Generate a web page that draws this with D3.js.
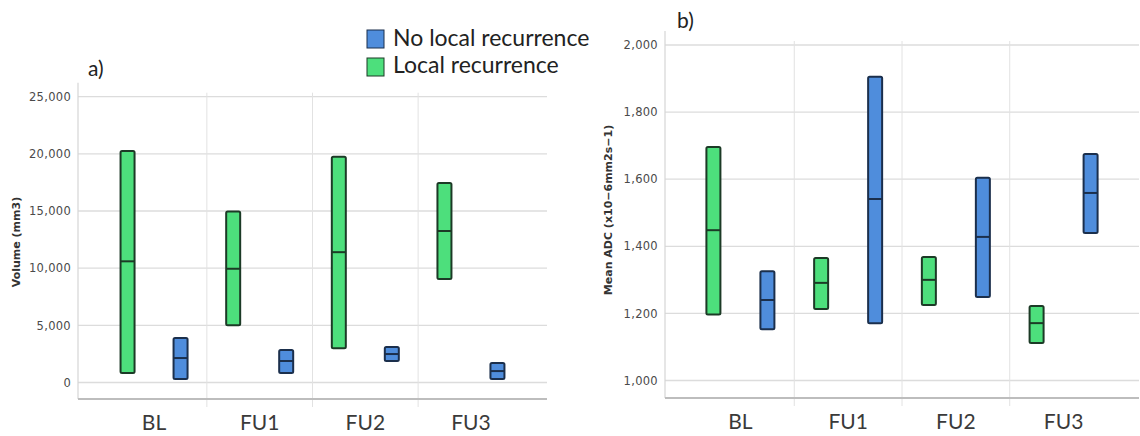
<!DOCTYPE html>
<html>
<head>
<meta charset="utf-8">
<script src="https://cdn.jsdelivr.net/npm/d3@7"></script>
<style>
  body { margin: 0; background: #fff; }
  svg { display: block; }
</style>
</head>
<body>
<svg id="chart" width="1140" height="436"></svg>
<script>
// categories and groups
const categories = ["BL", "FU1", "FU2", "FU3"];
const groupNames = ["No local recurrence", "Local recurrence"];

// a) volume (mm3), each entry [low, median, high]
const volumeLocal = [[830, 10600, 20250], [5000, 9950, 14950], [3000, 11400, 19750], [9050, 13250, 17450]];
const volumeNoLocal = [[300, 2140, 3890], [830, 1880, 2840], [1880, 2490, 3100], [300, 1000, 1700]];
const volumeTicks = [0, 5000, 10000, 15000, 20000, 25000];

// b) mean ADC, each entry [low, median, high]
const adcLocal = [[1197, 1448, 1696], [1213, 1291, 1365], [1225, 1300, 1368], [1112, 1171, 1222]];
const adcNoLocal = [[1153, 1240, 1326], [1171, 1541, 1905], [1249, 1428, 1604], [1440, 1559, 1675]];
const adcTicks = [1000, 1200, 1400, 1600, 1800, 2000];

const green = "#4ddf7c", greenStroke = "#1c3a26";
const blue = "#4f8ddc", blueStroke = "#1b2f4c";

const svg = d3.select("#chart");
const fmt = d3.format(",");

function drawPanel(p) {
    const g = svg.append("g");

    const x = d3.scaleBand().domain(categories)
        .range([p.left, p.right]).paddingInner(0).paddingOuter(p.pad);
    const y = d3.scaleLinear().domain(p.domain).range(p.yRange);

    // horizontal gridlines
    g.selectAll(".hgrid").data(p.ticks).join("line")
        .attr("x1", p.left).attr("x2", p.right)
        .attr("y1", d => y(d)).attr("y2", d => y(d))
        .attr("stroke", "#dcdcdc").attr("stroke-width", 1.3);

    // vertical separators between categories
    g.selectAll(".vgrid").data(categories.slice(1)).join("line")
        .attr("x1", d => x(d)).attr("x2", d => x(d))
        .attr("y1", y(p.domain[1]) - 4).attr("y2", p.axisY + 8)
        .attr("stroke", "#e2e2e2").attr("stroke-width", 1);

    // y axis line
    g.append("line")
        .attr("x1", p.left).attr("x2", p.left)
        .attr("y1", y(p.domain[1]) - 14).attr("y2", p.axisY)
        .attr("stroke", "#d6d6d6").attr("stroke-width", 1.2);

    // x axis line
    g.append("line")
        .attr("x1", p.left).attr("x2", p.right)
        .attr("y1", p.axisY).attr("y2", p.axisY)
        .attr("stroke", "#bdbdbd").attr("stroke-width", 2);

    // y tick labels
    const yAxis = g.append("g")
        .attr("transform", `translate(${p.left - 4},0)`)
        .call(d3.axisLeft(y).tickValues(p.ticks).tickFormat(fmt).tickSize(0));
    yAxis.select(".domain").remove();
    yAxis.selectAll("text")
        .attr("font-family", "DejaVu Sans, sans-serif")
        .attr("font-size", 11.5).attr("letter-spacing", 0.3).attr("fill", "#4a4a4a");

    // x tick labels
    const xAxis = g.append("g")
        .attr("transform", `translate(0,${p.axisY})`)
        .call(d3.axisBottom(x).tickSize(0));
    xAxis.select(".domain").remove();
    xAxis.selectAll("text")
        .attr("y", 16).attr("dy", "0.71em")
        .attr("font-family", "Lato, sans-serif")
        .attr("font-size", 21).attr("fill", "#3a3a3a");

    // y axis title
    g.append("text")
        .attr("transform", `translate(${p.titleX},${p.titleY}) rotate(-90)`)
        .attr("text-anchor", "middle")
        .attr("font-family", "DejaVu Sans, sans-serif")
        .attr("font-size", p.titleSize).attr("font-weight", "bold").attr("fill", "#333")
        .text(p.title);

    // panel letter
    g.append("text")
        .attr("x", p.letterX).attr("y", p.letterY)
        .attr("font-family", "Lato, sans-serif")
        .attr("font-size", 21).attr("fill", "#222")
        .text(p.letter);

    // range bars
    const series = [
        { data: p.local, off: -p.offset, fill: green, stroke: greenStroke },
        { data: p.noLocal, off: p.offset, fill: blue, stroke: blueStroke }
    ];
    const bw = 14;
    series.forEach(s => {
        const cx = (d, i) => x(categories[i]) + x.bandwidth() / 2 + s.off;
        const bars = g.append("g");
        bars.selectAll("rect").data(s.data).join("rect")
            .attr("x", (d, i) => cx(d, i) - bw / 2)
            .attr("y", d => y(d[2]))
            .attr("width", bw)
            .attr("height", d => y(d[0]) - y(d[2]))
            .attr("rx", 1.5)
            .attr("fill", s.fill).attr("stroke", s.stroke).attr("stroke-width", 2);
        bars.selectAll("line").data(s.data).join("line")
            .attr("x1", (d, i) => cx(d, i) - bw / 2)
            .attr("x2", (d, i) => cx(d, i) + bw / 2)
            .attr("y1", d => y(d[1])).attr("y2", d => y(d[1]))
            .attr("stroke", s.stroke).attr("stroke-width", 2);
    });
}

drawPanel({
    left: 78, right: 547, pad: 0.22, axisY: 399,
    domain: [0, 25000], yRange: [382.5, 96.7], ticks: volumeTicks,
    local: volumeLocal, noLocal: volumeNoLocal, offset: 26.5,
    title: "Volume (mm3)", titleX: 20, titleY: 242, titleSize: 11,
    letter: "a)", letterX: 88, letterY: 76
});

drawPanel({
    left: 665, right: 1139, pad: 0.2, axisY: 398,
    domain: [1000, 2000], yRange: [380.5, 45], ticks: adcTicks,
    local: adcLocal, noLocal: adcNoLocal, offset: 27,
    title: "Mean ADC (x10\u22126mm2s\u22121)", titleX: 612, titleY: 210, titleSize: 11,
    letter: "b)", letterX: 677, letterY: 28
});

// legend
const legend = svg.append("g").attr("transform", "translate(367,30)");
const legendColors = [[blue, blueStroke], [green, greenStroke]];
legend.selectAll("rect").data(groupNames).join("rect")
    .attr("x", 0).attr("y", (d, i) => i * 28)
    .attr("width", 17).attr("height", 18)
    .attr("fill", (d, i) => legendColors[i][0])
    .attr("stroke", (d, i) => legendColors[i][1]).attr("stroke-width", 1);
legend.selectAll("text").data(groupNames).join("text")
    .attr("x", 26).attr("y", (d, i) => 16 + i * 27)
    .attr("font-family", "Lato, sans-serif")
    .attr("font-size", 23).attr("fill", "#222")
    .text(d => d);
</script>
</body>
</html>
